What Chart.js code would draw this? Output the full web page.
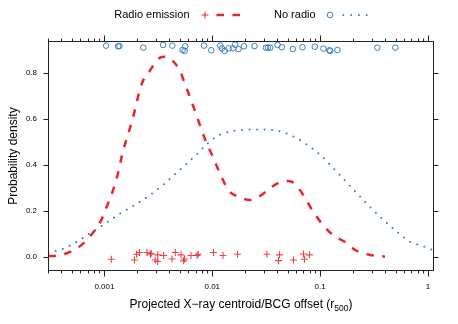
<!DOCTYPE html>
<html><head><meta charset="utf-8">
<script src="https://cdn.jsdelivr.net/npm/chart.js@4"></script>
<style>html,body{margin:0;padding:0;background:#fff;}#wrap{width:458px;height:324px;}</style>
</head><body><div id="wrap"><canvas id="c" width="458" height="324"></canvas></div>
<script>
// ---- data ----
const xTickValues = [0.001, 0.01, 0.1, 1];
const xTickLabels = ['0.001', '0.01', '0.1', '1'];
const yTickValues = [0, 0.2, 0.4, 0.6, 0.8];
const yTickLabels = ['0.0', '0.2', '0.4', '0.6', '0.8'];

const seriesNames = ['Radio emission', 'No radio'];

// KDE curve, radio emission (x in r500, y density)
const radioCurveX = [0.000303, 0.000367, 0.000454, 0.000600, 0.000741, 0.000918, 0.001021, 0.001265, 0.001500, 0.001815,
  0.002234, 0.002667, 0.003076, 0.003540, 0.003936, 0.004236, 0.005058, 0.005623, 0.006252, 0.007211,
  0.008610, 0.009931, 0.01143, 0.01406, 0.01816, 0.02249, 0.02782, 0.03443, 0.04264, 0.05057,
  0.05871, 0.06966, 0.08433, 0.1044, 0.1318, 0.1702, 0.2154, 0.2904, 0.3998];
const radioCurveY = [0.004, 0.0065, 0.017, 0.048, 0.091, 0.153, 0.204, 0.321, 0.464, 0.594,
  0.755, 0.811, 0.855, 0.869, 0.866, 0.855, 0.804, 0.746, 0.690, 0.609,
  0.508, 0.443, 0.377, 0.291, 0.258, 0.247, 0.265, 0.299, 0.325, 0.330,
  0.317, 0.269, 0.204, 0.143, 0.095, 0.065, 0.028, 0.0087, 0.0013];

// KDE curve, no radio
const noRadioCurveX = [0.000303, 0.000357, 0.000411, 0.000477, 0.000547, 0.000711, 0.000952, 0.001219, 0.001588, 0.002078,
  0.002706, 0.003422, 0.004325, 0.005504, 0.006961, 0.008743, 0.01119, 0.01468, 0.02022, 0.02904,
  0.04083, 0.05502, 0.07415, 0.1000, 0.1376, 0.1896, 0.2610, 0.3594, 0.4948, 0.6813,
  0.7856, 0.9183, 1.0661, 1.137];
const noRadioCurveY = [0.016, 0.026, 0.035, 0.049, 0.064, 0.098, 0.136, 0.170, 0.204, 0.236,
  0.272, 0.309, 0.351, 0.395, 0.439, 0.486, 0.525, 0.544, 0.552, 0.553,
  0.547, 0.525, 0.490, 0.443, 0.377, 0.308, 0.239, 0.174, 0.117, 0.066,
  0.055, 0.045, 0.033, 0.030];

// individual objects (rug points, jittered vertically)
const radioPointsX = [0.00116, 0.00190, 0.00199, 0.00211, 0.00248, 0.00267, 0.00272, 0.00296, 0.00312, 0.00312,
  0.00354, 0.00424, 0.00454, 0.00513, 0.00542, 0.00554, 0.00635, 0.00722, 0.00742, 0.01028,
  0.01257, 0.01714, 0.0321, 0.0411, 0.0420, 0.0566, 0.0700, 0.0716, 0.0796];
const radioPointsY = [-0.010, -0.013, 0.012, 0.019, 0.019, 0.012, 0.016, -0.013, 0.009, -0.020,
  0.006, -0.009, 0.019, 0.009, -0.017, -0.009, 0.006, 0.006, 0.012, 0.019,
  0.006, 0.012, 0.012, -0.016, 0.009, -0.013, 0.013, -0.010, 0.009];

const noRadioPointsX = [0.001037, 0.001340, 0.001377, 0.002297, 0.003500, 0.004266, 0.005309, 0.005540, 0.005623, 0.008375,
  0.009790, 0.01186, 0.01230, 0.01300, 0.01416, 0.01555, 0.01633, 0.01753, 0.01967, 0.02466,
  0.03143, 0.03280, 0.03443, 0.04025, 0.04419, 0.05585, 0.06855, 0.08926, 0.1073, 0.1219,
  0.1239, 0.1446, 0.3394, 0.4980];
const noRadioPointsY = [0.917, 0.914, 0.915, 0.908, 0.920, 0.917, 0.898, 0.894, 0.914, 0.917,
  0.897, 0.917, 0.905, 0.894, 0.905, 0.905, 0.921, 0.902, 0.914, 0.915,
  0.908, 0.908, 0.908, 0.920, 0.910, 0.902, 0.910, 0.912, 0.904, 0.897,
  0.894, 0.898, 0.908, 0.908];

// ---- styling ----
const RED = '#e8262b';
const BLUE = '#3c7fbf';
const FONT = '"Liberation Sans", Arial, Helvetica, sans-serif';

const zip = (xs, ys) => xs.map((v, i) => ({ x: v, y: ys[i] }));

const framePlugin = {
  id: 'frame',
  beforeDraw(chart) {
    const ctx = chart.ctx;
    ctx.save();
    ctx.fillStyle = '#fff';
    ctx.fillRect(0, 0, chart.width, chart.height);
    ctx.restore();
  },
  afterDraw(chart) {
    const { ctx, chartArea: a, scales } = chart;
    const xs = scales.x, ys = scales.y;
    ctx.save();
    // box
    ctx.strokeStyle = '#222';
    ctx.lineWidth = 1;
    const L = Math.round(a.left) + 0.5, R = Math.round(a.right) - 0.5;
    const T = Math.round(a.top) + 0.5, B = Math.round(a.bottom) - 0.5;
    ctx.strokeRect(L, T, R - L, B - T);
    // x ticks (log, major + minor) top and bottom
    ctx.beginPath();
    for (let d = -4; d <= 0; d++) {
      for (let m = 1; m <= 9; m++) {
        const v = m * Math.pow(10, d);
        if (v < xs.min || v > xs.max) continue;
        const px = Math.round(xs.getPixelForValue(v)) + 0.5;
        const len = m === 1 ? 6 : 3;
        ctx.moveTo(px, B); ctx.lineTo(px, B + len);
        ctx.moveTo(px, T); ctx.lineTo(px, T - len);
      }
    }
    // y ticks left and right
    yTickValues.forEach(v => {
      const py = Math.round(ys.getPixelForValue(v)) + 0.5;
      ctx.moveTo(L, py); ctx.lineTo(L - 5, py);
      ctx.moveTo(R, py); ctx.lineTo(R + 5, py);
    });
    ctx.stroke();

    // axis titles
    ctx.fillStyle = '#000';
    ctx.textBaseline = 'alphabetic';
    const cx = (a.left + a.right) / 2;
    const mainT = 'Projected X\u2212ray centroid/BCG offset (r';
    const subT = '500';
    const endT = ')';
    ctx.font = '12px ' + FONT;
    const w1 = ctx.measureText(mainT).width;
    const w3 = ctx.measureText(endT).width;
    ctx.font = '8.5px ' + FONT;
    const w2 = ctx.measureText(subT).width;
    let sx = cx - (w1 + w2 + w3) / 2;
    const by = 308;
    ctx.font = '12px ' + FONT;
    ctx.textAlign = 'left';
    ctx.fillText(mainT, sx, by);
    ctx.font = '8.5px ' + FONT;
    ctx.fillText(subT, sx + w1, by + 3);
    ctx.font = '12px ' + FONT;
    ctx.fillText(endT, sx + w1 + w2, by);

    ctx.save();
    ctx.translate(17, (a.top + a.bottom) / 2);
    ctx.rotate(-Math.PI / 2);
    ctx.textAlign = 'center';
    ctx.font = '12px ' + FONT;
    ctx.fillText('Probability density', 0, 0);
    ctx.restore();

    // legend
    const ly = 15;
    ctx.font = '11px ' + FONT;
    ctx.textBaseline = 'middle';
    ctx.textAlign = 'right';
    ctx.fillText(seriesNames[0], 189.5, ly);
    ctx.textAlign = 'left';
    ctx.fillText(seriesNames[1], 274, ly);
    // + symbol
    ctx.strokeStyle = RED; ctx.lineWidth = 1;
    ctx.beginPath();
    ctx.moveTo(201.5, ly); ctx.lineTo(208.5, ly);
    ctx.moveTo(205, ly - 3.5); ctx.lineTo(205, ly + 3.5);
    ctx.stroke();
    // dashed
    ctx.lineWidth = 2.5;
    ctx.setLineDash([7.5, 8.5]);
    ctx.beginPath(); ctx.moveTo(216.5, ly); ctx.lineTo(240, ly); ctx.stroke();
    // circle
    ctx.setLineDash([]);
    ctx.strokeStyle = BLUE; ctx.lineWidth = 1;
    ctx.beginPath(); ctx.arc(330, ly, 2.8, 0, Math.PI * 2); ctx.stroke();
    // dotted
    ctx.lineWidth = 2; ctx.lineCap = 'round';
    ctx.setLineDash([0.01, 7.8]);
    ctx.beginPath(); ctx.moveTo(343.3, ly); ctx.lineTo(368, ly); ctx.stroke();
    ctx.restore();
  }
};

new Chart(document.getElementById('c'), {
  type: 'scatter',
  data: {
    datasets: [
      {
        label: seriesNames[1] + ' density',
        data: zip(noRadioCurveX, noRadioCurveY),
        showLine: true, pointRadius: 0,
        borderColor: BLUE, borderWidth: 2,
        borderDash: [0.01, 7.5], borderCapStyle: 'round',
        cubicInterpolationMode: 'monotone', fill: false
      },
      {
        label: seriesNames[0] + ' density',
        data: zip(radioCurveX, radioCurveY),
        showLine: true, pointRadius: 0,
        borderColor: RED, borderWidth: 2.5,
        borderDash: [7.5, 8.5],
        cubicInterpolationMode: 'monotone', fill: false
      },
      {
        label: seriesNames[1],
        data: zip(noRadioPointsX, noRadioPointsY),
        showLine: false, pointStyle: 'circle', pointRadius: 2.8,
        pointBorderWidth: 1, borderColor: BLUE, backgroundColor: 'rgba(0,0,0,0)'
      },
      {
        label: seriesNames[0],
        data: zip(radioPointsX, radioPointsY),
        showLine: false, pointStyle: 'cross', pointRadius: 3.5,
        pointBorderWidth: 1.1, borderColor: 'rgba(232,38,43,0.85)', backgroundColor: 'rgba(0,0,0,0)'
      }
    ]
  },
  options: {
    responsive: false,
    devicePixelRatio: 1,
    animation: false,
    layout: { padding: { left: 0, right: 24, top: 41, bottom: 0 } },
    plugins: { legend: { display: false }, tooltip: { enabled: false } },
    scales: {
      x: {
        type: 'logarithmic', position: 'bottom',
        min: 0.000303, max: 1.137,
        grid: { display: false, drawTicks: false },
        border: { display: false },
        afterBuildTicks: s => { s.ticks = xTickValues.map(v => ({ value: v })); },
        afterFit: s => { s.height = 53; },
        ticks: {
          padding: 11, maxRotation: 0, autoSkip: false,
          color: '#000', font: { family: FONT, size: 8 },
          callback: (v) => { const i = xTickValues.indexOf(v); return i >= 0 ? xTickLabels[i] : ''; }
        }
      },
      y: {
        type: 'linear', position: 'left',
        min: -0.061, max: 0.937,
        grid: { display: false, drawTicks: false },
        border: { display: false },
        afterBuildTicks: s => { s.ticks = yTickValues.map(v => ({ value: v })); },
        afterFit: s => { s.width = 48; },
        ticks: {
          padding: 11, autoSkip: false,
          color: '#000', font: { family: FONT, size: 8 },
          callback: (v) => { const i = yTickValues.indexOf(v); return i >= 0 ? yTickLabels[i] : ''; }
        }
      }
    }
  },
  plugins: [framePlugin]
});
</script></body></html>
